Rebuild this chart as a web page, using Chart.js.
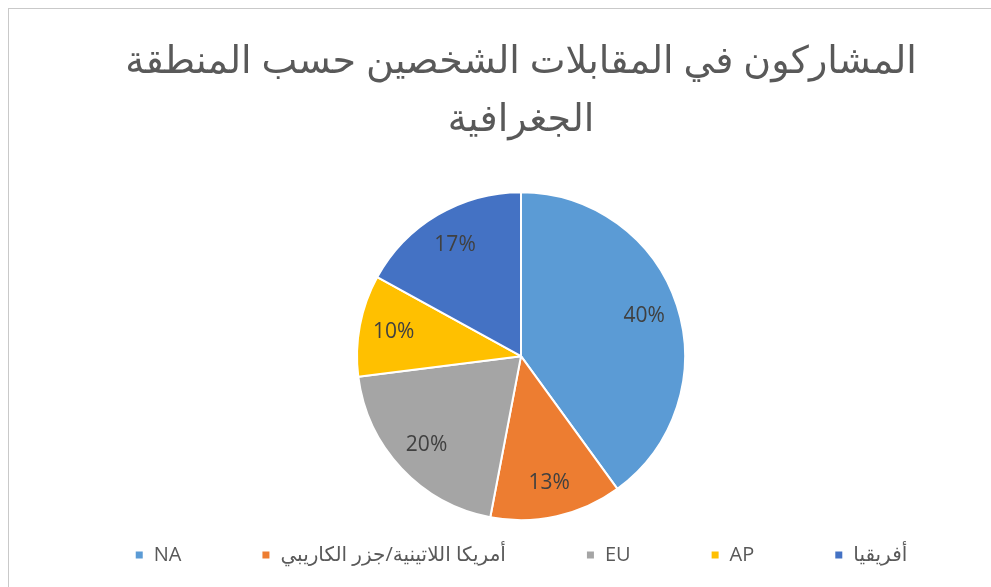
<!DOCTYPE html>
<html lang="ar">
<head>
<meta charset="utf-8">
<script src="https://cdn.jsdelivr.net/npm/chart.js@4.4.1/dist/chart.umd.min.js"></script>
<style>
  html, body { margin:0; padding:0; background:#fff; }
  #wrap { position:relative; width:991px; height:587px; overflow:hidden; }
  #frame { position:absolute; left:8px; top:8px; width:1100px; height:700px; border:1px solid #c9c9c9; }
  #chart { position:absolute; left:0; top:0; }
</style>
</head>
<body>
<div id="wrap">
  <div id="frame"></div>
  <canvas id="chart" width="991" height="587"></canvas>
</div>
<script>
// datos del gráfico
const titleLines = ['المشاركون في المقابلات الشخصين حسب المنطقة', 'الجغرافية'];
const regions = ['NA', 'أمريكا اللاتينية/جزر الكاريبي', 'EU', 'AP', 'أفريقيا'];
const shares = [40, 13, 20, 10, 17];   // %
const sliceColors = ['#5B9BD5', '#ED7D31', '#A5A5A5', '#FFC000', '#4472C4'];

const FONT = "'Open Sans', 'DejaVu Sans', sans-serif";

// etiquetas de porcentaje dentro de cada sector
const pctLabels = {
  id: 'pctLabels',
  afterDatasetsDraw(chart){
    const ctx = chart.ctx;
    const meta = chart.getDatasetMeta(0);
    ctx.save();
    ctx.font = '21px ' + FONT;
    ctx.fillStyle = '#404040';
    ctx.textAlign = 'center';
    ctx.textBaseline = 'middle';
    meta.data.forEach((arc, i)=>{
      const p = arc.getProps(['x','y','startAngle','endAngle','outerRadius'], true);
      const mid = (p.startAngle + p.endAngle) / 2;
      const r = p.outerRadius * 0.79;
      ctx.fillText(chart.data.datasets[0].data[i] + '%', p.x + Math.cos(mid)*r, p.y + Math.sin(mid)*r);
    });
    ctx.restore();
  }
};

new Chart(document.getElementById('chart'), {
  type: 'pie',
  data: {
    labels: regions,
    datasets: [{
      data: shares,
      backgroundColor: sliceColors,
      borderColor: '#ffffff',
      borderWidth: 2,
      radius: 164
    }]
  },
  options: {
    responsive: false,
    animation: false,
    layout: { padding: { left: 51, right: 0, top: 10, bottom: 12 } },
    plugins: {
      title: {
        display: true,
        text: titleLines,
        color: '#595959',
        font: { family: FONT, size: 38, weight: 'normal', lineHeight: 1.53 },
        padding: { top: 23, bottom: 98 }
      },
      legend: {
        position: 'bottom',
        labels: {
          color: '#595959',
          font: { family: FONT, size: 20 },
          boxWidth: 9,
          boxHeight: 9,
          padding: 80
        }
      },
      tooltip: { enabled: false }
    }
  },
  plugins: [pctLabels]
});
</script>
</body>
</html>
